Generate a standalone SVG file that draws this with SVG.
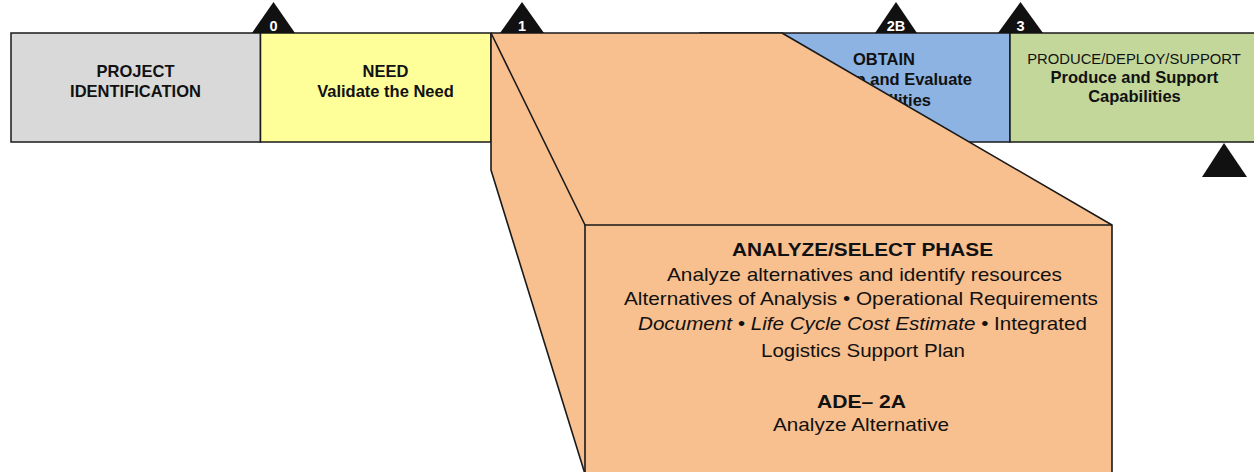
<svg xmlns="http://www.w3.org/2000/svg" width="1254" height="472" viewBox="0 0 1254 472">
  <style>
    .phase { stroke: #1a1a1a; stroke-width: 1.5; }
    .lbl { font-family: "Liberation Sans", Arial, sans-serif; fill: #111; }
    .b { font-weight: bold; }
    .hdr { font-size: 16.5px; font-weight: bold; text-anchor: middle; }
    .body { font-size: 19px; text-anchor: middle; }
    .ms { fill: #111; }
    .msnum { font-family: "Liberation Sans", Arial, sans-serif; font-size: 14.5px; font-weight: bold; fill: #fff; text-anchor: middle; }
    .edge { fill: none; stroke: #1a1a1a; stroke-width: 1.6; stroke-linejoin: round; }
  </style>

  <rect width="1254" height="472" fill="#ffffff"/>

  <!-- Phase bar -->
  <g id="project-identification">
    <rect class="phase" x="11" y="33" width="249.5" height="109" fill="#d9d9d9"/>
    <text class="lbl hdr" x="135.5" y="77">PROJECT</text>
    <text class="lbl hdr" x="135.5" y="97">IDENTIFICATION</text>
  </g>

  <g id="need">
    <rect class="phase" x="260.5" y="33" width="230.5" height="109" fill="#ffff99"/>
    <text class="lbl hdr" x="385.5" y="77">NEED</text>
    <text class="lbl hdr" x="385.5" y="97">Validate the Need</text>
  </g>

  <g id="obtain">
    <rect class="phase" x="700" y="33" width="310" height="109" fill="#8db3e2"/>
    <text class="lbl b" font-size="16.5" x="853" y="65">OBTAIN</text>
    <text class="lbl b" font-size="16.5" x="972" y="85" text-anchor="end">Develop and Evaluate</text>
    <text class="lbl b" font-size="16.5" x="931" y="106" text-anchor="end">Capabilities</text>
  </g>

  <g id="produce-deploy-support">
    <rect class="phase" x="1010" y="33" width="250" height="109" fill="#c4d79b"/>
    <text class="lbl" font-size="14.8" x="1134" y="64" text-anchor="middle">PRODUCE/DEPLOY/SUPPORT</text>
    <text class="lbl hdr" x="1134.5" y="83">Produce and Support</text>
    <text class="lbl hdr" x="1134.5" y="102">Capabilities</text>
  </g>

  <!-- Analyze/Select phase, drawn as an expanded block -->
  <g id="analyze-select">
    <path d="M491,33 L782,33 L1112,225 L1112,474 L585,474 L491,170 Z" fill="#f8bf8f"/>
    <path class="edge" d="M491,33 L782,33 L1112,225 L1112,474"/>
    <path class="edge" d="M491,33 L491,170 L585,474"/>
    <path class="edge" d="M491,33 L585,225 L1112,225"/>
    <path class="edge" d="M585,225 L585,474"/>

    <text class="lbl body b" x="862.5" y="256" textLength="261" lengthAdjust="spacingAndGlyphs">ANALYZE/SELECT PHASE</text>
    <text class="lbl body" x="864.5" y="281" textLength="395" lengthAdjust="spacingAndGlyphs">Analyze alternatives and identify resources</text>
    <text class="lbl body" x="861" y="305" textLength="474" lengthAdjust="spacingAndGlyphs">Alternatives of Analysis • Operational Requirements</text>
    <text class="lbl body" x="862.5" y="330" textLength="449" lengthAdjust="spacingAndGlyphs"><tspan font-style="italic">Document • Life Cycle Cost Estimate</tspan> • Integrated</text>
    <text class="lbl body" x="863" y="357" textLength="204" lengthAdjust="spacingAndGlyphs">Logistics Support Plan</text>
    <text class="lbl body b" x="861.5" y="408" textLength="89" lengthAdjust="spacingAndGlyphs">ADE– 2A</text>
    <text class="lbl body" x="861" y="431" textLength="176" lengthAdjust="spacingAndGlyphs">Analyze Alternative</text>
  </g>

  <!-- Milestone markers -->
  <g id="milestone-0">
    <polygon class="ms" points="273.5,2 295,33 252,33"/>
    <text class="msnum" x="273.5" y="30.5">0</text>
  </g>
  <g id="milestone-1">
    <polygon class="ms" points="522,2 544,33 500,33"/>
    <text class="msnum" x="522" y="30.5">1</text>
  </g>
  <g id="milestone-2b">
    <polygon class="ms" points="896,2 917,33 875,33"/>
    <text class="msnum" x="896" y="30.5">2B</text>
  </g>
  <g id="milestone-3">
    <polygon class="ms" points="1020.5,2 1043,33 998,33"/>
    <text class="msnum" x="1020.5" y="30.5">3</text>
  </g>
  <g id="milestone-end">
    <polygon class="ms" points="1224,143 1247,177 1202,177"/>
  </g>
</svg>
